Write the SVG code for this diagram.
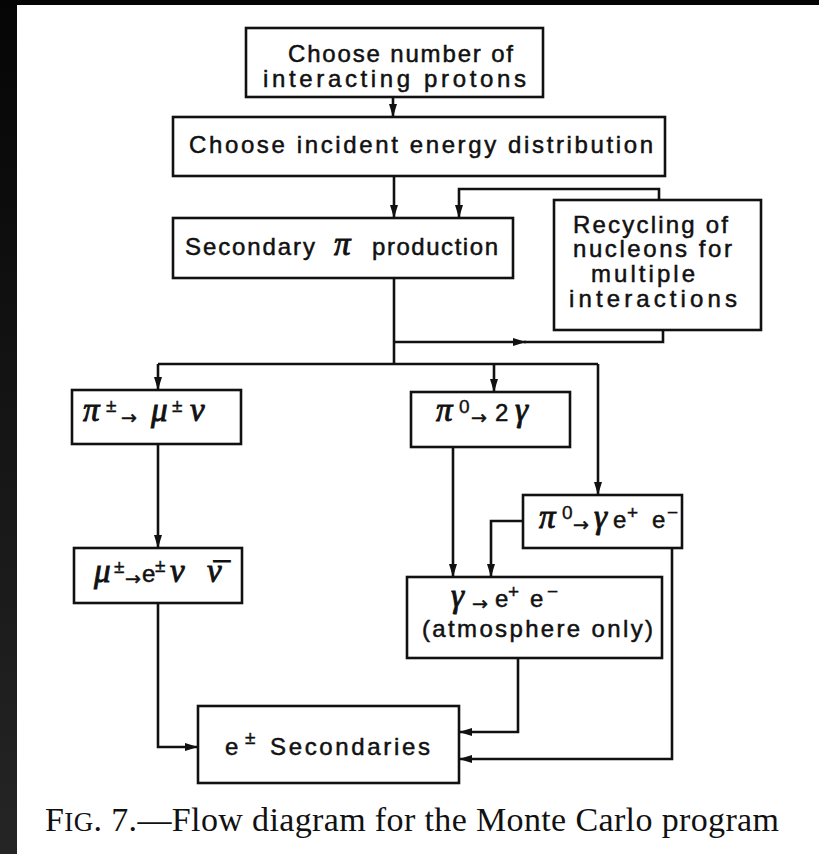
<svg xmlns="http://www.w3.org/2000/svg" width="819" height="854" viewBox="0 0 819 854">
<defs>
<linearGradient id="edge" x1="0" y1="0" x2="0" y2="1">
<stop offset="0" stop-color="#050505"/>
<stop offset="1" stop-color="#252525"/>
</linearGradient>
<marker id="ah" markerUnits="userSpaceOnUse" markerWidth="14" markerHeight="10" refX="13" refY="5" orient="auto">
<path d="M0,1 L13,5 L0,9 z" fill="#111"/>
</marker>
</defs>
<style>
.box{fill:#fff;stroke:#111;stroke-width:2.6}
.t{font-family:"Liberation Sans",Arial,sans-serif;font-size:24px;fill:#111;stroke:#111;stroke-width:0.5}
.m{font-family:"Liberation Serif","Times New Roman",serif;font-style:italic;font-size:33px;fill:#111;stroke:#111;stroke-width:0.9}
.s{font-family:"Liberation Sans",Arial,sans-serif;font-size:19px;fill:#111;stroke:#111;stroke-width:0.4}
.ar{font-family:"DejaVu Sans",sans-serif;font-size:19px;fill:#111;stroke:#111;stroke-width:0.5}
.c{fill:none;stroke:#111;stroke-width:2.6}
.cap{font-family:"Liberation Serif","Times New Roman",serif;font-size:34px;fill:#111}
</style>
<rect x="0" y="0" width="819" height="854" fill="#fff"/>
<rect x="0" y="0" width="819" height="5" fill="#050505"/>
<rect x="0" y="0" width="17" height="854" fill="url(#edge)"/>

<g id="connectors">
<path class="c" d="M393,97 V117" marker-end="url(#ah)"/>
<path class="c" d="M394,176 V218" marker-end="url(#ah)"/>
<path class="c" d="M659,200 V189 H459 V218" marker-end="url(#ah)"/>
<path class="c" d="M394,278 V364"/>
<path class="c" d="M394,342 H526" marker-end="url(#ah)"/>
<path class="c" d="M524,342 H663 V330"/>
<path class="c" d="M158,364 H598"/>
<path class="c" d="M158,364 V390" marker-end="url(#ah)"/>
<path class="c" d="M494,364 V392" marker-end="url(#ah)"/>
<path class="c" d="M598,364 V495" marker-end="url(#ah)"/>
<path class="c" d="M158,444 V548" marker-end="url(#ah)"/>
<path class="c" d="M158,603 V747 H198" marker-end="url(#ah)"/>
<path class="c" d="M453,447 V577" marker-end="url(#ah)"/>
<path class="c" d="M523,521 H491 V577" marker-end="url(#ah)"/>
<path class="c" d="M518,658 V732 H459" marker-end="url(#ah)"/>
<path class="c" d="M672,548 V759 H459" marker-end="url(#ah)"/>
</g>

<g id="n-choose-number">
<rect class="box" x="246" y="28" width="297" height="69"/>
<text class="t" x="288" y="62" textLength="225" lengthAdjust="spacing">Choose number of</text>
<text class="t" x="263" y="87" textLength="263" lengthAdjust="spacing">interacting protons</text>
</g>

<g id="n-energy">
<rect class="box" x="173" y="117" width="492" height="59"/>
<text class="t" x="189" y="153" textLength="464" lengthAdjust="spacing">Choose incident energy distribution</text>
</g>

<g id="n-secondary-pi">
<rect class="box" x="173" y="218" width="340" height="60"/>
<text class="t" x="185" y="255" textLength="130" lengthAdjust="spacing">Secondary</text>
<text class="m" x="334" y="255">π</text>
<text class="t" x="372" y="255" textLength="126" lengthAdjust="spacing">production</text>
</g>

<g id="n-recycling">
<rect class="box" x="554" y="200" width="207" height="130"/>
<text class="t" x="573" y="233" textLength="155" lengthAdjust="spacing">Recycling of</text>
<text class="t" x="573" y="257" textLength="159" lengthAdjust="spacing">nucleons for</text>
<text class="t" x="591" y="282" textLength="104" lengthAdjust="spacing">multiple</text>
<text class="t" x="569" y="307" textLength="168" lengthAdjust="spacing">interactions</text>
</g>

<g id="n-pi-mu">
<rect class="box" x="72" y="390" width="169" height="54"/>
<text class="m" x="83" y="421">π</text>
<text class="s" x="106" y="412">±</text>
<text class="ar" x="121" y="424">→</text>
<text class="m" x="151" y="421">μ</text>
<text class="s" x="172" y="412">±</text>
<text class="m" x="190" y="421">ν</text>
</g>

<g id="n-mu-e">
<rect class="box" x="74" y="548" width="168" height="55"/>
<text class="m" x="94" y="582">μ</text>
<text class="s" x="114" y="573">±</text>
<text class="ar" x="125" y="585">→</text>
<text class="t" x="142" y="582">e</text>
<text class="s" x="155" y="572">±</text>
<text class="m" x="170" y="582">ν</text>
<text class="m" x="207" y="582">ν</text>
<text class="m" x="211" y="586">¯</text>
</g>

<g id="n-pi0-2g">
<rect class="box" x="411" y="392" width="159" height="55"/>
<text class="m" x="436" y="421">π</text>
<text class="s" x="459" y="413">0</text>
<text class="ar" x="471" y="424">→</text>
<text class="t" x="495" y="421">2</text>
<text class="m" x="515" y="421">γ</text>
</g>

<g id="n-pi0-gee">
<rect class="box" x="523" y="495" width="159" height="53"/>
<text class="m" x="539" y="528">π</text>
<text class="s" x="562" y="519">0</text>
<text class="ar" x="573" y="531">→</text>
<text class="m" x="594" y="528">γ</text>
<text class="t" x="613" y="528">e</text>
<text class="s" x="627" y="519">+</text>
<text class="t" x="652" y="528">e</text>
<text class="s" x="667" y="519">−</text>
</g>

<g id="n-gamma-ee">
<rect class="box" x="407" y="577" width="255" height="81"/>
<text class="m" x="451" y="607">γ</text>
<text class="ar" x="472" y="610">→</text>
<text class="t" x="495" y="607">e</text>
<text class="s" x="508" y="598">+</text>
<text class="t" x="530" y="607">e</text>
<text class="s" x="547" y="598">−</text>
<text class="t" x="422" y="637" textLength="231" lengthAdjust="spacing">(atmosphere only)</text>
</g>

<g id="n-secondaries">
<rect class="box" x="198" y="706" width="261" height="77"/>
<text class="t" x="225" y="755">e</text>
<text class="s" x="245" y="744">±</text>
<text class="t" x="270" y="755" textLength="160" lengthAdjust="spacing">Secondaries</text>
</g>

<text class="cap" x="45" y="831" textLength="734" lengthAdjust="spacing">F<tspan font-size="27">IG</tspan>. 7.—Flow diagram for the Monte Carlo program</text>
</svg>
